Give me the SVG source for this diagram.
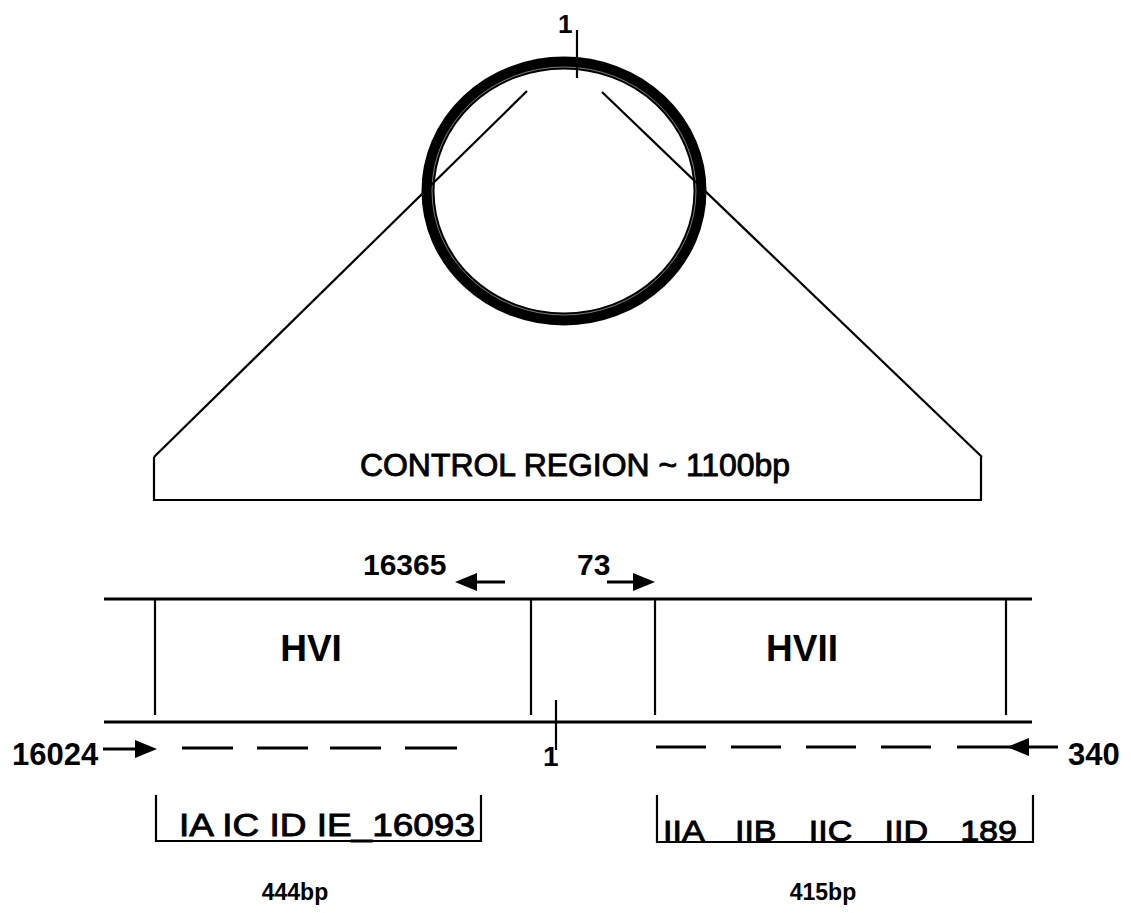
<svg xmlns="http://www.w3.org/2000/svg" width="1131" height="913" viewBox="0 0 1131 913">
<style>
.ln{stroke:#000;stroke-width:3;fill:none;stroke-linecap:butt}
.thin{stroke:#000;stroke-width:2.2;fill:none}
.dash{stroke:#000;stroke-width:3;fill:none}
.b{font-family:"Liberation Sans",Arial,sans-serif;font-weight:bold;fill:#000}
.r{font-family:"Liberation Sans",Arial,sans-serif;fill:#000;stroke:#000;stroke-width:0.9}
.ah{fill:#000;stroke:none}
</style>
<rect width="1131" height="913" fill="#fff"/>
<g id="circle">
<ellipse cx="564" cy="191" rx="136" ry="128" fill="none" stroke="#000" stroke-width="13"/>
<ellipse cx="564" cy="191" rx="132" ry="124" fill="none" stroke="#fff" stroke-width="0.8" stroke-opacity="0.6"/>
<line class="thin" x1="577" y1="30" x2="577" y2="78"/>
<text class="b" x="558" y="33" font-size="26">1</text>
</g>
<g id="connectors">
<line class="thin" x1="527" y1="91" x2="154" y2="457"/>
<line class="thin" x1="602" y1="92" x2="982" y2="457"/>
<line class="dash" x1="103" y1="749" x2="140" y2="749"/>
<polygon class="ah" points="157,749 135,740 135,758"/>
<line class="dash" x1="182" y1="748" x2="233" y2="748"/>
<line class="dash" x1="257" y1="748" x2="308" y2="748"/>
<line class="dash" x1="330" y1="748" x2="381" y2="748"/>
<line class="dash" x1="405" y1="748" x2="457" y2="748"/>
<line class="dash" x1="656" y1="747" x2="706" y2="747"/>
<line class="dash" x1="731" y1="747" x2="781" y2="747"/>
<line class="dash" x1="806" y1="747" x2="856" y2="747"/>
<line class="dash" x1="881" y1="747" x2="931" y2="747"/>
<line class="dash" x1="957" y1="747" x2="1058" y2="747"/>
<polygon class="ah" points="1007,747 1029,738 1029,756"/>
<line class="dash" x1="475" y1="582" x2="505" y2="582"/>
<polygon class="ah" points="455,582 477,573 477,591"/>
<line class="dash" x1="607" y1="582" x2="636" y2="582"/>
<polygon class="ah" points="655,582 633,573 633,591"/>
</g>
<g id="control-region">
<polyline class="thin" points="154,457 154,500 981,500 981,457"/>
<text class="r" x="360" y="476" font-size="31" textLength="430" lengthAdjust="spacingAndGlyphs">CONTROL REGION ~ 1100bp</text>
</g>
<g id="strand">
<line class="ln" x1="104" y1="599" x2="1032" y2="599"/>
<line class="ln" x1="104" y1="722" x2="1032" y2="722"/>
<line class="thin" x1="531" y1="599" x2="531" y2="715"/>
<line class="thin" x1="556" y1="700" x2="556" y2="750"/>
<text class="b" x="543" y="766" font-size="28">1</text>
<text class="b" x="363" y="575" font-size="30">16365</text>
<text class="b" x="577" y="575" font-size="30">73</text>
<text class="b" x="12" y="765" font-size="31">16024</text>
<text class="b" x="1068" y="765" font-size="31">340</text>
</g>
<g id="hvi">
<line class="thin" x1="155" y1="599" x2="155" y2="715"/>
<text class="b" x="311" y="661" font-size="37" text-anchor="middle">HVI</text>
</g>
<g id="hvii">
<line class="thin" x1="655" y1="599" x2="655" y2="715"/>
<line class="thin" x1="1006" y1="599" x2="1006" y2="715"/>
<text class="b" x="802" y="661" font-size="37" text-anchor="middle">HVII</text>
</g>
<g id="hvi-segments">
<polyline class="thin" points="156,795 156,841 481,841 481,795"/>
<text class="r" x="179" y="836" font-size="31" textLength="296" lengthAdjust="spacingAndGlyphs">IA IC ID IE_16093</text>
<text class="b" x="295" y="900" font-size="23" text-anchor="middle">444bp</text>
</g>
<g id="hvii-segments">
<polyline class="thin" points="657,795 657,842 1033,842 1033,795"/>
<text class="r" x="663" y="841" font-size="30" word-spacing="20" textLength="354" lengthAdjust="spacingAndGlyphs">IIA IIB IIC IID 189</text>
<text class="b" x="823" y="900" font-size="23" text-anchor="middle">415bp</text>
</g>
</svg>
